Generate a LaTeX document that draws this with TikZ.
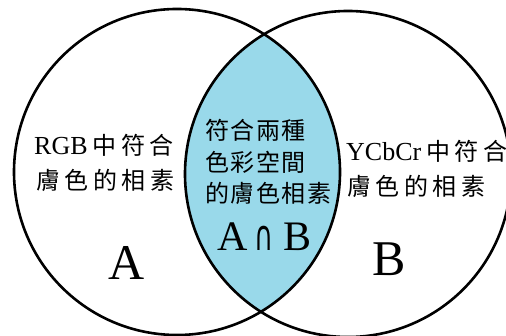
\documentclass[tikz,border=0pt]{standalone}
\usepackage{fontspec}
\usepackage{graphicx}
\setmainfont{Liberation Serif}
\newfontfamily\cjk{Noto Sans CJK TC}
\newfontfamily\symf{DejaVu Sans}
\newcommand{\cs}{\hspace{4.5pt}}
\newcommand{\cm}{\hspace{1.5pt}}
\newcommand{\cjs}{\cjk\fontsize{24}{24}\selectfont}
\definecolor{lensblue}{RGB}{153,217,234}
\tikzset{
  setcircle/.style={circle, draw=black, line width=2.6pt, minimum size=326pt, inner sep=0pt},
  txt/.style={anchor=base west, inner sep=0pt, font=\fontsize{26}{26}\selectfont},
  big/.style={anchor=base west, inner sep=0pt, font=\fontsize{50}{50}\selectfont},
  mid/.style={anchor=base west, inner sep=0pt, font=\fontsize{42}{42}\selectfont}
}
\begin{document}
\begin{tikzpicture}[x=1pt,y=-1pt]
\useasboundingbox (0,0) rectangle (506,336);
\clip (0,0) rectangle (506,336);
\coordinate (ca) at (177,172);
\coordinate (cb) at (348,174);
\begin{scope}
  \clip (ca) circle[radius=163];
  \fill[lensblue] (cb) circle[radius=163];
\end{scope}
\node[setcircle] (A) at (ca) {};
\node[setcircle] (B) at (cb) {};
% left text
\node[txt] (l1) at (34,155) {RGB\hspace{5pt}{\cjs 中\cs 符\cs 合}};
\node[txt] (l2) at (36,190) {{\cjs 膚\cs 色\cs 的\cs 相\cs 素}};
% middle text
\node[txt] (m1) at (205,140) {{\cjs 符\cm 合\cm 兩\cm 種}};
\node[txt] (m2) at (205,172) {{\cjs 色\cm 彩\cm 空\cm 間}};
\node[txt] (m3) at (205,203) {{\cjs 的\cm 膚\cm 色\cm 相\cm 素}};
\node[mid] (ab) at (217,251) {A\hspace{7pt}\scalebox{0.62}[1]{\symf\fontsize{42}{42}\selectfont ∩}\hspace{10pt}B};
% right text
\node[txt] (r1) at (346,161) {YCbCr\hspace{5pt}{\cjs 中\cs 符\cs 合}};
\node[txt] (r2) at (347,196) {{\cjs 膚\cs 色\cs 的\cs 相\cs 素}};
% set labels
\node[big] (la) at (108,280) {A};
\node[big] (lb) at (372,276) {B};
\end{tikzpicture}
\end{document}
